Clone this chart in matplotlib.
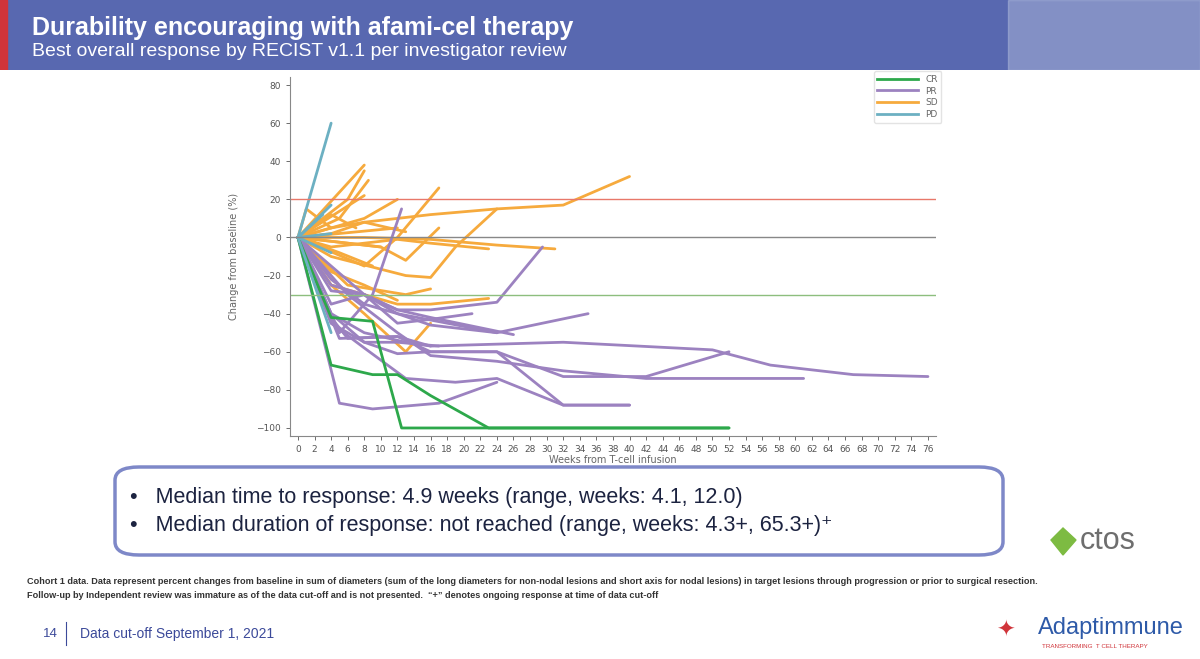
import matplotlib
matplotlib.use("Agg")
import matplotlib.pyplot as plt
from matplotlib.patches import FancyBboxPatch, Rectangle, Polygon
from matplotlib.lines import Line2D

cr_weeks = [[0, 4, 9, 12, 16, 23, 52], [0, 4, 9, 12.5, 52]]
cr_vals = [[0, -67, -72, -72, -83, -100, -100], [0, -42, -44, -100, -100]]

pr_weeks = [[0, 5, 9, 17, 24], [0, 4, 6, 12, 16, 24, 32, 40], [0, 4, 8, 12, 16, 24, 32, 42, 52],
            [0, 4, 8, 13, 16, 32, 50, 57, 67, 76], [0, 4, 8, 12, 24, 35], [0, 4, 8, 12, 16, 24, 29.5],
            [0, 5, 9, 12.5], [0, 4, 8, 12, 16, 21], [0, 8, 12, 16, 26], [0, 4, 8, 12, 17],
            [0, 6, 12, 16, 24, 32, 42, 61], [0, 4, 8, 13, 19, 24, 32, 40], [0, 4, 8, 12, 16, 24],
            [0, 5, 12, 16]]
pr_vals = [[0, -87, -90, -87, -76], [0, -42, -53, -52, -60, -60, -88, -88], [0, -45, -55, -61, -60, -60, -73, -73, -60],
           [0, -40, -50, -55, -57, -55, -59, -67, -72, -73], [0, -22, -35, -40, -50, -40], [0, -25, -30, -38, -38, -34, -5],
           [0, -50, -30, 15], [0, -28, -30, -45, -43, -40], [0, -30, -38, -42, -51], [0, -40, -55, -55, -57],
           [0, -30, -50, -62, -65, -70, -74, -74], [0, -45, -58, -74, -76, -74, -88, -88], [0, -35, -30, -40, -46, -50],
           [0, -53, -52, -57]]

sd_weeks = [[0, 4, 8, 12, 16, 24, 32, 40], [0, 8], [0, 6, 8], [0, 5, 8.5], [0, 8], [0, 8, 12], [0, 8, 12, 17],
            [0, 10, 13, 17], [0, 8, 16, 24, 31], [0, 4, 12, 16, 23], [0, 4, 13, 16, 19, 24], [0, 4, 8, 12, 16, 23],
            [0, 4, 8, 13, 16], [0, 1, 4], [0, 6, 13, 16], [0, 12], [0, 10], [0, 4, 8, 13], [0, 4, 7], [0, 5, 9],
            [0, 4, 8, 12]]
sd_vals = [[0, 5, 8, 10, 12, 15, 17, 32], [0, 38], [0, 20, 35], [0, 10, 30], [0, 22], [0, 10, 20], [0, -15, 0, 26],
           [0, -5, -12, 5], [0, 0, -1, -4, -6], [0, -5, -1, -3, -6], [0, -10, -20, -21, -5, 15], [0, -25, -30, -35, -35, -32],
           [0, -25, -40, -60, -45], [0, 15, 5], [0, -25, -30, -27], [0, 5], [0, -5], [0, 2, 8, 3], [0, 12, 5], [0, -8, -15],
           [0, -18, -25, -33]]

pd_weeks = [[0, 4], [0, 4], [0, 4], [0, 4], [0, 4], [0, 3]]
pd_vals = [[0, 60], [0, 17], [0, -50], [0, -8], [0, 2], [0, 12]]

x_ticks = list(range(0, 77, 2))
y_ticks = [-100, -80, -60, -40, -20, 0, 20, 40, 60, 80]

C_CR, C_PR, C_SD, C_PD = "#2DA84B", "#9C82C0", "#F6AA3D", "#6CB0C2"
FAM = ["Liberation Sans", "DejaVu Sans"]

fig = plt.figure(figsize=(12, 6.59), dpi=100)
fig.patch.set_facecolor("white")

hdr = fig.add_axes([0, 1 - 70 / 659, 1, 70 / 659])
hdr.set_axis_off()
hdr.add_patch(Rectangle((0, 0), 1, 1, color="#5868B0", transform=hdr.transAxes))
hdr.add_patch(Rectangle((0, 0), 0.006, 1, color="#D0343A", transform=hdr.transAxes))
hdr.add_patch(Rectangle((0.84, 0), 0.16, 1, color="#B8C2E0", alpha=0.45, transform=hdr.transAxes))
fig.text(0.027, 0.975, "Durability encouraging with afami-cel therapy", color="white",
         fontsize=18, fontweight="bold", family=FAM, va="top")
fig.text(0.027, 0.935, "Best overall response by RECIST v1.1 per investigator review", color="white",
         fontsize=14, family=FAM, va="top")

ax = fig.add_axes([0.2414, 0.339, 0.5388, 0.5435])
for W, V, c in [(sd_weeks, sd_vals, C_SD), (pr_weeks, pr_vals, C_PR), (cr_weeks, cr_vals, C_CR), (pd_weeks, pd_vals, C_PD)]:
    for w, v in zip(W, V):
        ax.plot(w, v, color=c, lw=2.0, solid_capstyle="round")
ax.axhline(20, color="#E8786A", lw=1)
ax.axhline(0, color="#888888", lw=1)
ax.axhline(-30, color="#8DBE7E", lw=1)
ax.set_xlim(-1, 77)
ax.set_ylim(-104, 84)
ax.set_xticks(x_ticks)
ax.set_yticks(y_ticks)
ax.tick_params(labelsize=6.5, colors="#555555", length=3, width=0.6)
for s in ["top", "right"]:
    ax.spines[s].set_visible(False)
for s in ["left", "bottom"]:
    ax.spines[s].set_color("#888888")
    ax.spines[s].set_linewidth(0.8)
ax.set_xlabel("Weeks from T-cell infusion", fontsize=7, color="#666666", labelpad=1)
ax.set_ylabel("Change from baseline (%)", fontsize=7, color="#666666", labelpad=12)
handles = [Line2D([], [], color=c, lw=2) for c in [C_CR, C_PR, C_SD, C_PD]]
leg = ax.legend(handles, ["CR", "PR", "SD", "PD"], loc="upper right", bbox_to_anchor=(1.015, 1.03),
                fontsize=6.5, frameon=True, handlelength=4.5, labelspacing=0.3)
leg.get_frame().set_edgecolor("#dddddd")
for t in leg.get_texts():
    t.set_color("#666666")

fig.patches.append(FancyBboxPatch((115 / 1200, 1 - 555 / 659), 888 / 1200, 88 / 659,
                                  boxstyle="round,pad=0,rounding_size=0.02", transform=fig.transFigure,
                                  fill=False, edgecolor="#7E88C8", lw=2.5))
fig.text(0.108, 1 - 497 / 659, "•   Median time to response: 4.9 weeks (range, weeks: 4.1, 12.0)",
         fontsize=15.5, color="#1C2340", family=FAM, va="center")
fig.text(0.108, 1 - 526 / 659, "•   Median duration of response: not reached (range, weeks: 4.3+, 65.3+)\u207a",
         fontsize=15.5, color="#1C2340", family=FAM, va="center")

fig.patches.append(Polygon([(1063 / 1200, 1 - 528 / 659), (1076 / 1200, 1 - 540 / 659),
                            (1063 / 1200, 1 - 555 / 659), (1051 / 1200, 1 - 540 / 659)],
                           closed=True, transform=fig.transFigure, color="#7DBB42"))
fig.text(0.900, 1 - 541 / 659, "ctos", fontsize=22, color="#6E6E6E", family=FAM, va="center")

fig.text(0.0225, 1 - 581 / 659,
         "Cohort 1 data. Data represent percent changes from baseline in sum of diameters (sum of the long diameters for non-nodal lesions and short axis for nodal lesions) in target lesions through progression or prior to surgical resection.",
         fontsize=6.6, fontweight="bold", color="#333333", family=FAM, va="center")
fig.text(0.0225, 1 - 596 / 659,
         "Follow-up by Independent review was immature as of the data cut-off and is not presented.  \u201c+\u201d denotes ongoing response at time of data cut-off",
         fontsize=6.6, fontweight="bold", color="#333333", family=FAM, va="center")

fig.text(0.036, 1 - 634 / 659, "14", fontsize=9.5, color="#3C4A9A", family=FAM, va="center")
fig.add_artist(Line2D([0.055, 0.055], [1 - 645 / 659, 1 - 622 / 659], color="#3C4A9A", lw=0.8, transform=fig.transFigure))
fig.text(0.067, 1 - 634 / 659, "Data cut-off September 1, 2021", fontsize=10, color="#3C4A9A", family=FAM, va="center")
fig.text(0.865, 1 - 628 / 659, "Adaptimmune", fontsize=17, color="#2E5AA8", family=FAM, va="center")
fig.text(0.868, 1 - 646 / 659, "TRANSFORMING  T CELL THERAPY", fontsize=4.5, color="#D0343A", family=FAM, va="center")
fig.text(0.830, 1 - 631 / 659, "\u2726", fontsize=16, color="#D0343A", family=["DejaVu Sans"], va="center")

fig.savefig("out.png", dpi=100)
